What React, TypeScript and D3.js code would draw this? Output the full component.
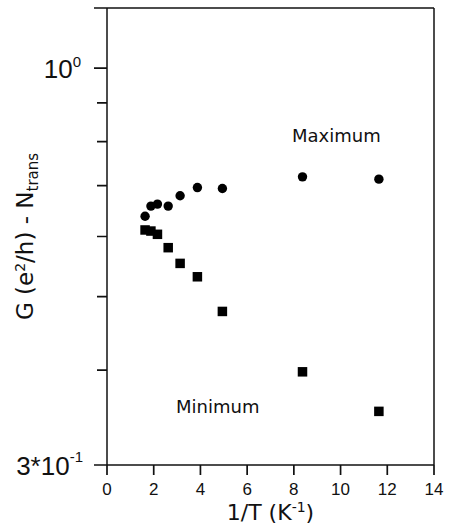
import React, { useRef, useEffect } from 'react';
import * as d3 from 'd3';

// 1/T (K^-1) for each measured temperature
const invT = [1.63, 1.88, 2.16, 2.62, 3.13, 3.87, 4.94, 8.37, 11.64];
// conductance above N_trans, maxima and minima
const gMax = [0.638, 0.658, 0.662, 0.658, 0.679, 0.696, 0.694, 0.719, 0.714];
const gMin = [0.612, 0.610, 0.604, 0.580, 0.553, 0.531, 0.478, 0.398, 0.353];
const xTicks = [0, 2, 4, 6, 8, 10, 12, 14];
const yMinorTicks = [0.4, 0.5, 0.6, 0.7, 0.8, 0.9];
const yMajorTicks = [0.3, 1.0, 1.2];

const NUM_FONT = '"Liberation Sans", Arial, sans-serif';
const TXT_FONT = '"DejaVu Sans", "Liberation Sans", sans-serif';

function App() {
  const ref = useRef<SVGSVGElement>(null);

  useEffect(() => {
    const svg = d3.select(ref.current);
    svg.selectAll('*').remove();

    const width = 457;
    const height = 531;
    const margin = { top: 8, right: 23, bottom: 66, left: 107 };
    const x0 = margin.left, x1 = width - margin.right;
    const y0 = height - margin.bottom, y1 = margin.top;

    const x = d3.scaleLinear().domain([0, 14]).range([x0, x1]);
    const y = d3.scaleLog().domain([0.3, 1.2]).range([y0, y1]);

    svg.append('rect').attr('width', width).attr('height', height).attr('fill', '#fff');

    // frame
    const frame = svg.append('g').attr('stroke', '#111').attr('stroke-width', 1.5).attr('fill', 'none');
    frame.append('line').attr('x1', x0).attr('x2', x1).attr('y1', y1).attr('y2', y1);
    frame.append('line').attr('x1', x1).attr('x2', x1).attr('y1', y1).attr('y2', y0);
    frame.append('line').attr('x1', x0).attr('x2', x1).attr('y1', y0).attr('y2', y0);
    frame.append('line').attr('x1', x0).attr('x2', x0).attr('y1', y1).attr('y2', y0);

    // ticks: x pointing down, y pointing left
    const tickPath = d3.path();
    xTicks.forEach(v => { tickPath.moveTo(x(v), y0); tickPath.lineTo(x(v), y0 + 10); });
    yMinorTicks.forEach(v => { tickPath.moveTo(x0 - 10, y(v)); tickPath.lineTo(x0, y(v)); });
    yMajorTicks.forEach(v => { tickPath.moveTo(x0 - 13, y(v)); tickPath.lineTo(x0, y(v)); });
    svg.append('path')
      .attr('d', tickPath.toString())
      .attr('fill', 'none')
      .attr('stroke', '#111')
      .attr('stroke-width', 1.7);

    svg.append('g').selectAll('text')
      .data(xTicks)
      .enter().append('text')
      .attr('x', d => x(d))
      .attr('y', y0 + 30)
      .attr('text-anchor', 'middle')
      .attr('fill', '#111')
      .style('font-family', NUM_FONT).style('font-size', '17px')
      .text(d => d);

    const lab1 = svg.append('text').attr('x', 81).attr('y', y(1.0) + 10)
      .attr('text-anchor', 'end').attr('fill', '#111')
      .style('font-family', NUM_FONT).style('font-size', '26px');
    lab1.append('tspan').text('10');
    lab1.append('tspan').attr('dy', -11).style('font-size', '15px').text('0');

    const lab3 = svg.append('text').attr('x', 83).attr('y', y(0.3) + 10)
      .attr('text-anchor', 'end').attr('fill', '#111')
      .style('font-family', NUM_FONT).style('font-size', '26px');
    lab3.append('tspan').text('3*10');
    lab3.append('tspan').attr('dy', -13).style('font-size', '15px').text('-1');

    // axis titles
    const xt = svg.append('text').attr('x', (x0 + x1) / 2).attr('y', 520)
      .attr('text-anchor', 'middle').attr('fill', '#111')
      .style('font-family', TXT_FONT).style('font-size', '22px');
    xt.append('tspan').text('1/T  (K');
    xt.append('tspan').attr('dy', -8).style('font-size', '14px').text('-1');
    xt.append('tspan').attr('dy', 8).text(')');

    const yt = svg.append('text')
      .attr('transform', `translate(33,${(y0 + y1) / 2}) rotate(-90)`)
      .attr('text-anchor', 'middle').attr('fill', '#111')
      .style('font-family', TXT_FONT).style('font-size', '23px');
    yt.append('tspan').text('G (e');
    yt.append('tspan').attr('dy', -8).style('font-size', '14px').text('2');
    yt.append('tspan').attr('dy', 8).text('/h) - N');
    yt.append('tspan').attr('dy', 5).style('font-size', '15px').text('trans');

    // data
    const pts = invT.map((v, i) => ({ x: v, max: gMax[i], min: gMin[i] }));

    svg.append('g').selectAll('circle')
      .data(pts)
      .enter().append('circle')
      .attr('cx', d => x(d.x))
      .attr('cy', d => y(d.max))
      .attr('r', 4.7)
      .attr('fill', '#000');

    const s = 9.5;
    svg.append('g').selectAll('rect')
      .data(pts)
      .enter().append('rect')
      .attr('x', d => x(d.x) - s / 2)
      .attr('y', d => y(d.min) - s / 2)
      .attr('width', s)
      .attr('height', s)
      .attr('fill', '#000');

    // series labels
    svg.append('text').attr('x', 292).attr('y', 142).attr('fill', '#111')
      .style('font-family', TXT_FONT).style('font-size', '18px').text('Maximum');
    svg.append('text').attr('x', 176).attr('y', 413).attr('fill', '#111')
      .style('font-family', TXT_FONT).style('font-size', '18px').text('Minimum');
  }, []);

  return (
    <svg ref={ref} width={457} height={531} style={{ position: 'absolute', left: 0, top: 0 }}></svg>
  );
}

export default App;
